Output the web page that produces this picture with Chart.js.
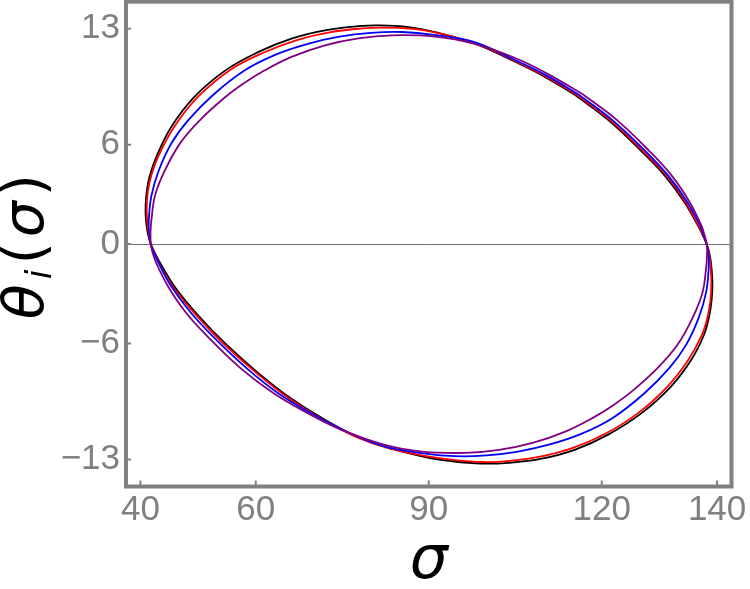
<!DOCTYPE html>
<html>
<head>
<meta charset="utf-8">
<script src="https://cdn.jsdelivr.net/npm/chart.js@4.4.1/dist/chart.umd.min.js"></script>
<style>
  html, body { margin: 0; padding: 0; background: #fff; }
  #wrap { width: 750px; height: 589px; position: relative; }
</style>
</head>
<body>
<div id="wrap"><canvas id="orbit"></canvas></div>
<script>
// ── DATA ([sigma, theta] pairs, clockwise round each loop) ──
const xTicks = [40, 60, 90, 120, 140];
const yTicks = [-13, -6, 0, 6, 13];

const blackCurve = [
  [115.4, 9.0], [121.1, 7.5], [126.9, 5.6], [131.0, 4.1], [134.4, 2.5], [136.7, 1.1], [137.5, 0.55], [138.2, 0],
  [138.75, -0.7], [139.05, -1.5], [139.2, -2.4], [139.05, -3.4], [138.6, -4.4], [137.7, -5.5], [135.5, -7.0], [132.0, -8.6],
  [126.9, -10.2], [121.1, -11.5], [115.4, -12.4], [109.6, -12.95], [103.8, -13.2], [99.2, -13.25], [94.0, -13.1], [89.4, -12.85],
  [83.6, -12.35], [77.8, -11.65], [72.0, -10.6], [66.2, -9.34], [60.5, -7.8], [54.7, -6.0], [50.0, -4.3], [46.0, -2.6],
  [43.7, -1.3], [42.6, -0.6], [41.8, 0],
  [41.25, 0.7], [40.95, 1.5], [40.9, 2.3], [41.1, 3.2], [41.6, 4.1], [42.8, 5.3], [45.4, 7.1], [49.4, 8.9],
  [54.8, 10.5], [60.5, 11.6], [66.2, 12.4], [72.0, 12.9], [77.8, 13.15], [81.3, 13.2], [86.5, 13.1], [91.1, 12.8],
  [98.0, 12.1], [103.8, 11.2], [109.6, 10.2], [115.4, 9.0]
];

const redCurve = [
  [115.7, 9.0], [121.4, 7.5], [127.2, 5.6], [131.3, 4.1], [134.6, 2.5], [136.8, 1.1], [137.55, 0.55], [138.2, 0],
  [138.65, -0.7], [138.9, -1.5], [139.0, -2.4], [138.85, -3.4], [138.35, -4.4], [137.35, -5.5], [135.0, -7.0], [131.4, -8.6],
  [126.3, -10.2], [120.6, -11.45], [115.0, -12.3], [109.3, -12.83], [103.6, -13.1], [99.2, -13.15], [94.2, -13.02], [89.6, -12.8],
  [83.3, -12.35], [77.5, -11.65], [71.7, -10.6], [65.9, -9.34], [60.2, -7.8], [54.4, -6.0], [49.7, -4.3], [45.7, -2.6],
  [43.45, -1.3], [42.5, -0.6], [41.8, 0],
  [41.4, 0.7], [41.15, 1.5], [41.1, 2.3], [41.3, 3.2], [41.85, 4.1], [43.1, 5.3], [45.9, 7.1], [50.0, 8.9],
  [55.5, 10.5], [61.3, 11.55], [67.0, 12.3], [72.8, 12.78], [78.5, 13.02], [82.0, 13.07], [87.0, 13.0], [91.5, 12.75],
  [98.2, 12.1], [104.1, 11.2], [109.9, 10.2], [115.7, 9.0]
];

const blueCurve = [
  [116.1, 9.0], [121.8, 7.5], [127.6, 5.6], [131.6, 4.1], [134.9, 2.5], [137.1, 1.1], [137.7, 0.5], [138.2, 0],
  [138.5, -0.7], [138.55, -1.43], [138.1, -2.9], [136.82, -4.44], [134.6, -6.1], [131.74, -7.47], [127.4, -9.0],
  [121.9, -10.49], [116.44, -11.45], [110.97, -12.09], [105.5, -12.52], [100.04, -12.75], [94.58, -12.8],
  [89.12, -12.63], [82.2, -12.2],
  [75.05, -11.2], [69.55, -10.2], [63.9, -9.0], [58.45, -7.5], [52.65, -5.6], [48.65, -4.1], [45.25, -2.5],
  [43.1, -1.1], [42.3, -0.5], [41.8, 0],
  [41.5, 0.7], [41.45, 1.43], [41.9, 2.9], [43.18, 4.44], [45.4, 6.1], [48.26, 7.47], [52.6, 9.0],
  [58.1, 10.49], [63.56, 11.45], [69.03, 12.09], [74.5, 12.52], [79.96, 12.75], [85.42, 12.8], [90.88, 12.63],
  [97.8, 12.2], [104.4, 11.2], [110.3, 10.2], [116.1, 9.0]
];

const purpleCurve = [
  [116.9, 9.0], [122.6, 7.5], [128.3, 5.6], [132.2, 4.1], [135.3, 2.5], [137.3, 1.1], [137.85, 0.5], [138.2, 0],
  [138.25, -0.7], [138.1, -1.43], [137.46, -2.94], [135.78, -4.43], [133.13, -6.08], [129.71, -7.47], [125.32, -8.86],
  [122.0, -9.72], [118.44, -10.49], [113.79, -11.3], [108.0, -12.0], [102.2, -12.42], [96.4, -12.6], [88.9, -12.52],
  [82.2, -12.1],
  [74.8, -11.2], [69.0, -10.2], [63.1, -9.0], [57.4, -7.5], [51.7, -5.6], [47.8, -4.1], [44.7, -2.5],
  [42.7, -1.1], [42.1, -0.5], [41.8, 0],
  [41.75, 0.7], [41.9, 1.43], [42.54, 2.94], [44.22, 4.43], [46.87, 6.08], [50.29, 7.47], [54.68, 8.86],
  [58.0, 9.72], [61.56, 10.49], [66.21, 11.3], [72.0, 12.0], [77.8, 12.42], [83.6, 12.6], [91.1, 12.52],
  [97.8, 12.1], [105.2, 11.2], [111.0, 10.2], [116.9, 9.0]
];

// ── STYLE ─────────────────────────────────────────────────────────────────
const frameColor = "#808080";
const fontFam = "'Liberation Sans', Arial, sans-serif";
const titleFam = "'DejaVu Sans', sans-serif";
const tickFont = { family: fontFam, size: 35, lineHeight: 1.2 };
const toPts = arr => arr.map(p => ({ x: p[0], y: p[1] }));
const fmtTick = v => (v < 0 ? "\u2212" + Math.abs(v) : String(v));

const curve = (label, pts, color, order) => ({
  label, data: toPts(pts), showLine: true, borderColor: color, borderWidth: 1.8,
  pointRadius: 0, tension: 0.4, fill: false, order,
});

// frame + inward tick marks on top, and the rotated y title θ_i(σ)
const framePlugin = {
  id: "frame",
  afterDatasetsDraw(chart) {
    const { ctx, chartArea: a, scales: { x, y } } = chart;
    ctx.save();
    ctx.strokeStyle = frameColor;
    ctx.lineWidth = 2;
    ctx.beginPath();
    xTicks.forEach(v => { const px = x.getPixelForValue(v); ctx.moveTo(px, a.bottom); ctx.lineTo(px, a.bottom - 6); });
    yTicks.forEach(v => { const py = y.getPixelForValue(v); ctx.moveTo(a.left, py); ctx.lineTo(a.left + 5, py); });
    ctx.stroke();
    ctx.lineWidth = 4;
    ctx.strokeRect(a.left, a.top, a.right - a.left, a.bottom - a.top);
    ctx.restore();
  },
  afterDraw(chart) {
    const { ctx, chartArea: a } = chart;
    ctx.save();
    ctx.translate(28, (a.top + a.bottom) / 2);
    ctx.rotate(-Math.PI / 2);
    ctx.fillStyle = "#000";
    ctx.textBaseline = "middle";
    const gap = 5;
    const parts = [
      { t: "\u03B8", f: "oblique 57px " + titleFam, dy: 0 },
      { t: "i", f: "oblique 35px " + titleFam, dy: 14 },
      { t: "(", f: "57px " + titleFam, dy: 0 },
      { t: "\u03C3", f: "oblique 57px " + titleFam, dy: 0 },
      { t: ")", f: "57px " + titleFam, dy: 0 },
    ];
    let w = 0;
    parts.forEach(p => { ctx.font = p.f; p.w = ctx.measureText(p.t).width + gap; w += p.w; });
    let cx = -w / 2;
    parts.forEach(p => { ctx.font = p.f; ctx.fillText(p.t, cx, p.dy); cx += p.w; });
    ctx.restore();
  },
};

new Chart(document.getElementById("orbit"), {
  type: "scatter",
  data: {
    datasets: [
      curve("black", blackCurve, "#000000", 4),
      curve("red", redCurve, "#ff0000", 3),
      curve("blue", blueCurve, "#0000ff", 2),
      curve("purple", purpleCurve, "#800080", 1),
    ],
  },
  options: {
    responsive: true, maintainAspectRatio: false, animation: false,
    layout: { padding: { left: 0, right: 18.5, top: 1.7, bottom: 0 } },
    plugins: { legend: { display: false }, tooltip: { enabled: false } },
    scales: {
      x: {
        type: "linear", min: 37.5, max: 142.5,
        afterBuildTicks: s => { s.ticks = xTicks.map(v => ({ value: v })); },
        afterFit: s => { s.height = 102.5; s.paddingLeft = 0; s.paddingRight = 0; },
        grid: { display: false, drawTicks: false },
        border: { display: false },
        ticks: { color: frameColor, font: tickFont, padding: 3, maxRotation: 0, autoSkip: false, callback: v => fmtTick(v) },
        title: {
          display: true, text: "\u03C3", color: "#000",
          font: { family: titleFam, size: 60, style: "oblique", lineHeight: 0.9 },
          padding: { top: 0, bottom: 0 },
        },
      },
      y: {
        type: "linear", min: -14.63, max: 14.63,
        afterBuildTicks: s => { s.ticks = yTicks.map(v => ({ value: v })); },
        afterFit: s => { s.width = 126; s.paddingTop = 0; s.paddingBottom = 0; },
        grid: { drawTicks: false, lineWidth: 1, color: c => (c.tick && c.tick.value === 0 ? "#707070" : "rgba(0,0,0,0)") },
        border: { display: false },
        ticks: { color: frameColor, font: tickFont, padding: 6, autoSkip: false, callback: v => fmtTick(v) },
      },
    },
  },
  plugins: [framePlugin],
});
</script>
</body>
</html>
